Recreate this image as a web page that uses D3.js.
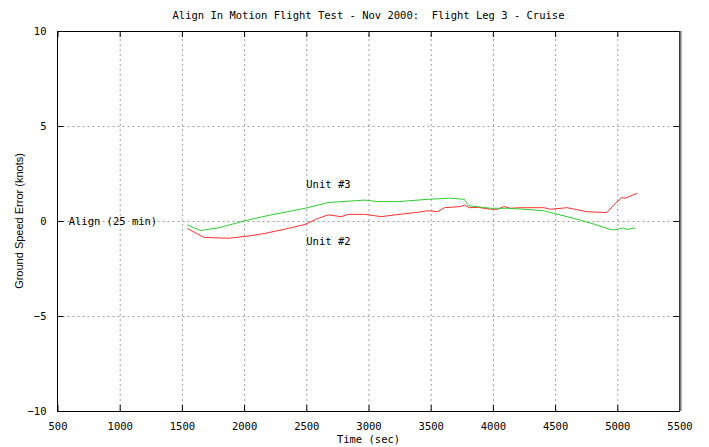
<!DOCTYPE html>
<html>
<head>
<meta charset="utf-8">
<script src="https://cdn.jsdelivr.net/npm/d3@7"></script>
<style>
  body { margin: 0; background: #fff; }
  svg text { font-family: "DejaVu Sans Mono", monospace; font-size: 10.5px; fill: #000; white-space: pre; }
  .grid line { stroke: #a0a0a0; stroke-dasharray: 2,3; }
  .grid path { display: none; }
  .ticks path { display: none; }
  .ticks line { stroke: #000; }
</style>
</head>
<body>
<div id="chart"></div>
<script>
// Unit #3 (green) and Unit #2 (red): time in sec, ground speed error in knots
const unit3Time = [1540, 1650, 1800, 2000, 2200, 2490, 2676, 2970, 3076, 3236, 3476, 3662, 3770, 3801, 3983, 4116, 4250, 4409, 4490, 4650, 4810, 4943, 4970, 5050, 5076, 5143];
const unit3Vals = [-0.2, -0.5, -0.35, 0.0, 0.3, 0.67, 0.97, 1.1, 1.02, 1.02, 1.14, 1.2, 1.14, 0.81, 0.67, 0.67, 0.62, 0.54, 0.4, 0.14, -0.16, -0.44, -0.47, -0.37, -0.44, -0.37];
const unit2Time = [1543, 1676, 1876, 1943, 2036, 2170, 2356, 2490, 2596, 2676, 2783, 2836, 2970, 3103, 3210, 3396, 3476, 3556, 3610, 3743, 3770, 3810, 3876, 3983, 4036, 4090, 4143, 4223, 4410, 4463, 4596, 4756, 4916, 4970, 5036, 5063, 5160];
const unit2Vals = [-0.39, -0.86, -0.91, -0.86, -0.79, -0.65, -0.39, -0.18, 0.14, 0.32, 0.23, 0.35, 0.35, 0.23, 0.32, 0.46, 0.54, 0.49, 0.7, 0.76, 0.84, 0.7, 0.72, 0.62, 0.62, 0.76, 0.67, 0.7, 0.7, 0.62, 0.7, 0.49, 0.44, 0.84, 1.23, 1.2, 1.46];
const xTicks = [500, 1000, 1500, 2000, 2500, 3000, 3500, 4000, 4500, 5000, 5500];
const yTicks = [-10, -5, 0, 5, 10];

const margin = { top: 31, right: 29.5, bottom: 36, left: 57.5 };
const W = 709, H = 447;
const width = W - margin.left - margin.right;
const height = H - margin.top - margin.bottom;

const x = d3.scaleLinear().domain([500, 5500]).range([0, width]);
const y = d3.scaleLinear().domain([-10, 10]).range([height, 0]);

const svg = d3.select('#chart').append('svg').attr('width', W).attr('height', H);
const plot = svg.append('g').attr('transform', `translate(${margin.left},${margin.top})`);

// dotted grid
plot.append('g').attr('class', 'grid')
  .attr('transform', `translate(0,${height})`)
  .call(d3.axisBottom(x).tickValues(xTicks.slice(1, -1)).tickSize(-height).tickFormat(''));
plot.append('g').attr('class', 'grid')
  .call(d3.axisLeft(y).tickValues(yTicks.slice(1, -1)).tickSize(-width).tickFormat(''));

// inward ticks on all four sides
plot.append('g').attr('class', 'ticks')
  .attr('transform', `translate(0,${height})`)
  .call(d3.axisBottom(x).tickValues(xTicks).tickSize(-6).tickPadding(12).tickFormat(d3.format('d')))
  .selectAll('text').attr('dy', '0.71em');
plot.append('g').attr('class', 'ticks')
  .call(d3.axisTop(x).tickValues(xTicks).tickSize(-6).tickFormat(''));
plot.append('g').attr('class', 'ticks')
  .call(d3.axisLeft(y).tickValues(yTicks).tickSize(-6).tickPadding(11).tickFormat(d3.format('d')));
plot.append('g').attr('class', 'ticks')
  .attr('transform', `translate(${width},0)`)
  .call(d3.axisRight(y).tickValues(yTicks).tickSize(-6).tickFormat(''));

plot.selectAll('.ticks text').style('font-family', '"DejaVu Sans Mono", monospace').style('font-size', '10.5px');

// frame
plot.append('rect').attr('width', width).attr('height', height)
  .attr('fill', 'none').attr('stroke', '#000').attr('shape-rendering', 'crispEdges');
plot.append('line').attr('x1', width + 1).attr('x2', width + 1).attr('y1', 0).attr('y2', height)
  .attr('stroke', '#777').attr('stroke-width', 2);

const line = d3.line().x(d => x(d[0])).y(d => y(d[1]));
const unit3 = unit3Time.map((t, i) => [t, unit3Vals[i]]);
const unit2 = unit2Time.map((t, i) => [t, unit2Vals[i]]);

plot.append('path').datum(unit2).attr('d', line)
  .attr('fill', 'none').attr('stroke', '#ff3030').attr('stroke-width', 1);
plot.append('path').datum(unit3).attr('d', line)
  .attr('fill', 'none').attr('stroke', '#30cc30').attr('stroke-width', 1);

// annotations
plot.append('text').attr('x', x(590)).attr('y', y(0)).attr('dy', '0.35em').text('Align (25 min)');
plot.append('text').attr('x', x(2500)).attr('y', y(1.95)).attr('dy', '0.35em').text('Unit #3');
plot.append('text').attr('x', x(2500)).attr('y', y(-1.05)).attr('dy', '0.35em').text('Unit #2');

// titles
svg.append('text').attr('x', margin.left + width / 2).attr('y', 15).attr('dy', '0.35em')
  .attr('text-anchor', 'middle').text('Align In Motion Flight Test - Nov 2000:  Flight Leg 3 - Cruise');
svg.append('text').attr('x', margin.left + width / 2).attr('y', 439).attr('dy', '0.35em')
  .attr('text-anchor', 'middle').text('Time (sec)');
svg.append('text').attr('transform', `translate(19,${margin.top + height / 2}) rotate(-90)`)
  .attr('dy', '0.35em').attr('text-anchor', 'middle')
  .style('font-family', '"Liberation Sans", Arial, sans-serif').style('font-size', '11px')
  .text('Ground Speed Error (knots)');
</script>
</body>
</html>
